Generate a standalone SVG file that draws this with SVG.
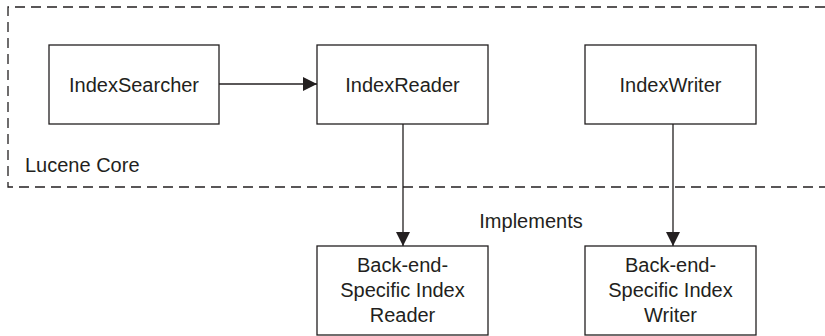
<svg xmlns="http://www.w3.org/2000/svg" width="825" height="336" viewBox="0 0 825 336">
<style>
.box{fill:#fff;stroke:#231f20;stroke-width:1.3}
.t{font-family:"Liberation Sans",Arial,sans-serif;font-size:20px;fill:#231f20;text-anchor:middle}
.c{stroke:#231f20;stroke-width:1.3;fill:none}
.dash{stroke:#231f20;stroke-width:1.3;fill:none;stroke-dasharray:10,6}
</style>
<defs>
<marker id="ah" viewBox="0 0 14 14" refX="14" refY="7" markerWidth="14" markerHeight="14" markerUnits="userSpaceOnUse" orient="auto">
<path d="M0,0 L14,7 L0,14 Z" fill="#231f20"/>
</marker>
</defs>
<g id="lucene-core">
<path class="dash" d="M825,7 H8 V187 H825"/>
<text class="t" x="25" y="172" style="text-anchor:start">Lucene Core</text>
</g>
<g id="connectors">
<line class="c" x1="219" y1="84" x2="317" y2="84" marker-end="url(#ah)"/>
<line class="c" x1="403" y1="124" x2="403" y2="246" marker-end="url(#ah)"/>
<line class="c" x1="673" y1="124" x2="673" y2="246" marker-end="url(#ah)"/>
<text class="t" x="531" y="228">Implements</text>
</g>
<g id="indexsearcher">
<rect class="box" x="49" y="45" width="170" height="79"/>
<text class="t" x="134" y="92">IndexSearcher</text>
</g>
<g id="indexreader">
<rect class="box" x="317" y="45" width="171" height="79"/>
<text class="t" x="402.5" y="92">IndexReader</text>
</g>
<g id="indexwriter">
<rect class="box" x="585" y="45" width="171" height="79"/>
<text class="t" x="670.5" y="92">IndexWriter</text>
</g>
<g id="backend-reader">
<rect class="box" x="317" y="246" width="171" height="89"/>
<text class="t" x="402.5" y="272">Back-end-</text>
<text class="t" x="402.5" y="297">Specific Index</text>
<text class="t" x="402.5" y="322">Reader</text>
</g>
<g id="backend-writer">
<rect class="box" x="585" y="246" width="171" height="89"/>
<text class="t" x="670.5" y="272">Back-end-</text>
<text class="t" x="670.5" y="297">Specific Index</text>
<text class="t" x="670.5" y="322">Writer</text>
</g>
</svg>
